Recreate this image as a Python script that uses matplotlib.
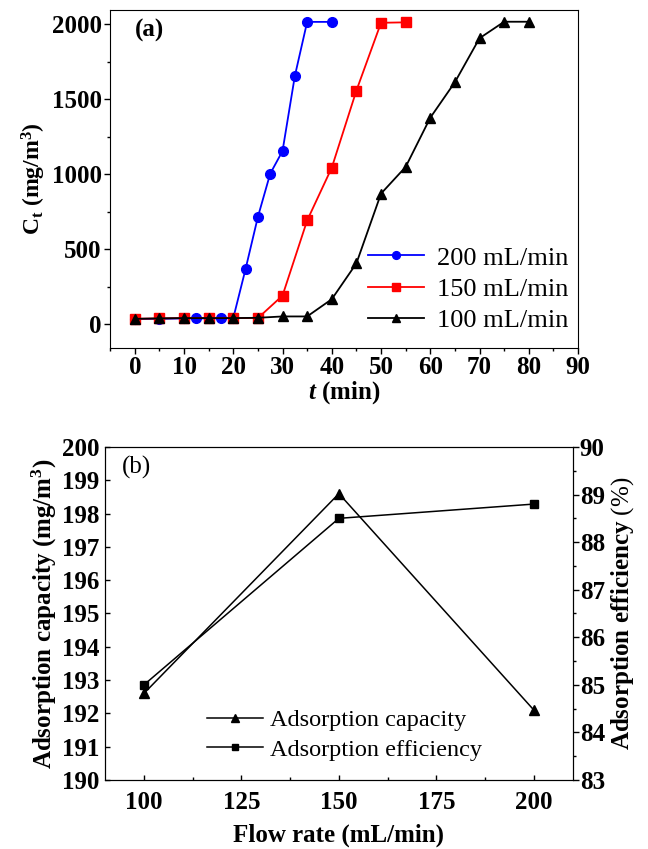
import matplotlib

matplotlib.use("Agg")
import matplotlib.pyplot as plt
from matplotlib.ticker import MultipleLocator

plt.rcParams["font.family"] = ["Liberation Serif", "DejaVu Serif"]
plt.rcParams["mathtext.fontset"] = "custom"
plt.rcParams["mathtext.rm"] = "Liberation Serif"
plt.rcParams["mathtext.it"] = "Liberation Serif:italic:bold"
plt.rcParams["mathtext.bf"] = "Liberation Serif:bold"

# (a) breakthrough curves
t_200 = [0, 5, 10, 12.5, 15, 17.5, 20, 22.5, 25, 27.5, 30, 32.5, 35, 40]
c_200 = [35, 35, 38, 38, 38, 38, 40, 368, 715, 1003, 1154, 1654, 2015, 2015]
t_150 = [0, 5, 10, 15, 20, 25, 30, 35, 40, 45, 50, 55]
c_150 = [35, 38, 40, 40, 40, 40, 190, 691, 1043, 1557, 2009, 2012]
t_100 = [0, 5, 10, 15, 20, 25, 30, 35, 40, 45, 50, 55, 60, 65, 70, 75, 80]
c_100 = [35, 38, 40, 40, 40, 42, 51, 51, 166, 405, 870, 1048, 1376, 1613, 1906, 2016, 2016]

# (b) capacity and efficiency vs flow rate
flow = [100, 150, 200]
capacity = [192.6, 198.6, 192.1]
efficiency = [85.0, 88.5, 88.8]

fig = plt.figure(figsize=(6.48, 8.49), dpi=100)

# ---- panel (a)
ax1 = fig.add_axes([0.170, 0.590, 0.722, 0.398])
ax1.plot(t_200, c_200, "-o", color="blue", ms=7, lw=1.3, label="200 mL/min")
ax1.plot(t_150, c_150, "-s", color="red", ms=6.5, lw=1.3, label="150 mL/min")
ax1.plot(t_100, c_100, "-^", color="black", ms=7.5, lw=1.3, label="100 mL/min")
ax1.set_xlim(-5, 90)
ax1.set_ylim(-160, 2093)
ax1.xaxis.set_major_locator(MultipleLocator(10))
ax1.xaxis.set_minor_locator(MultipleLocator(5))
ax1.yaxis.set_major_locator(MultipleLocator(500))
ax1.yaxis.set_minor_locator(MultipleLocator(250))
ax1.tick_params(which="both", direction="out", top=False, right=False)
ax1.tick_params(which="major", length=4, width=1, labelsize=18, pad=2)
ax1.tick_params(which="minor", length=2.5, width=1)
for lab in ax1.get_xticklabels() + ax1.get_yticklabels():
    lab.set_fontweight("bold")
ax1.set_xlabel("$t$ (min)", fontsize=18, fontweight="bold", labelpad=0)
ax1.set_ylabel("C$_\\mathbf{t}$ (mg/m$^\\mathbf{3}$)", fontsize=17,
               fontweight="bold", labelpad=3)
ax1.text(0.053, 0.94, "(a)", transform=ax1.transAxes, fontsize=18,
         fontweight="bold", va="center")
ax1.legend(loc="upper left", bbox_to_anchor=(0.552, 0.302), fontsize=19,
           frameon=False, handlelength=2.1, borderpad=0, borderaxespad=0,
           labelspacing=0.3, handletextpad=0.5, markerscale=0.8)

# ---- panel (b)
ax2 = fig.add_axes([0.162, 0.0813, 0.722, 0.3922])
l1, = ax2.plot(flow, capacity, "-^", color="black", ms=7, lw=1.1,
               label="Adsorption capacity")
ax2.set_xlim(90, 210)
ax2.set_ylim(190, 200)
ax2.xaxis.set_major_locator(MultipleLocator(25))
ax2.xaxis.set_minor_locator(MultipleLocator(12.5))
ax2.yaxis.set_major_locator(MultipleLocator(1))
ax2.tick_params(which="both", direction="in", top=False, right=False)
ax2.tick_params(which="major", length=3.5, width=1, labelsize=18, pad=4)
ax2.tick_params(axis="x", which="major", pad=8)
ax2.tick_params(which="minor", length=2.5, width=1)
for lab in ax2.get_xticklabels() + ax2.get_yticklabels():
    lab.set_fontweight("bold")
ax2.set_xlabel("Flow rate (mL/min)", fontsize=18, fontweight="bold", labelpad=7)
ax2.set_ylabel("Adsorption capacity (mg/m$^\\mathbf{3}$)", fontsize=18,
               fontweight="bold", labelpad=2)
ax2.text(0.036, 0.94, "(b)", transform=ax2.transAxes, fontsize=18, va="center")

ax3 = ax2.twinx()
l2, = ax3.plot(flow, efficiency, "-s", color="black", ms=6, lw=1.1,
               label="Adsorption efficiency")
ax3.set_ylim(83, 90)
ax3.yaxis.set_major_locator(MultipleLocator(1))
ax3.yaxis.set_minor_locator(MultipleLocator(0.5))
ax3.tick_params(which="both", direction="out")
ax3.tick_params(which="major", length=4, width=1, labelsize=18, pad=1)
ax3.tick_params(which="minor", length=2.5, width=1)
for lab in ax3.get_yticklabels():
    lab.set_fontweight("bold")
ax3.set_ylabel("$\\mathbf{Adsorption\\ efficiency}$ (%)", fontsize=18,
               labelpad=3)

ax2.legend([l1, l2], [l1.get_label(), l2.get_label()], loc="upper left",
           bbox_to_anchor=(0.218, 0.213), fontsize=17.5, frameon=False,
           handlelength=2.3, borderpad=0, borderaxespad=0,
           labelspacing=0.32, handletextpad=0.3, markerscale=0.8)

fig.savefig("out.png", dpi=100)
